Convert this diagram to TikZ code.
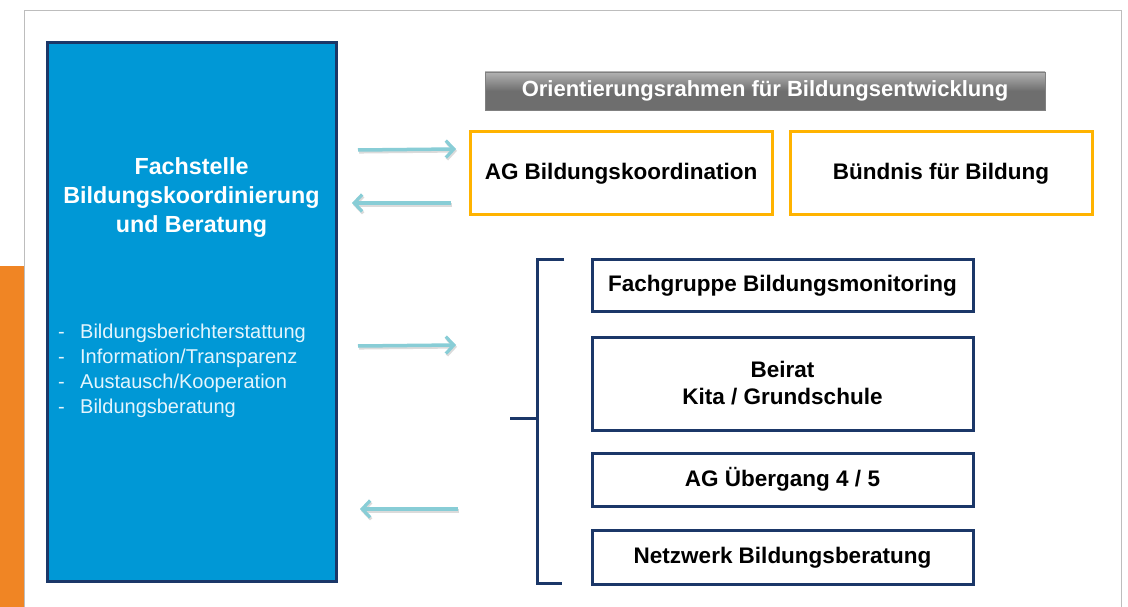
\documentclass[tikz,border=0pt]{standalone}
\usepackage{fontspec}
\setmainfont{Liberation Sans}
\usetikzlibrary{arrows.meta}
\definecolor{fsblue}{HTML}{0098D6}
\definecolor{navy}{HTML}{1B3768}
\definecolor{orng}{HTML}{F08524}
\definecolor{amber}{HTML}{FFB300}
\definecolor{teal}{HTML}{88CDD6}
\definecolor{bullettxt}{HTML}{E4F5FD}
\definecolor{framegray}{HTML}{BDBDBD}
\tikzset{
  yellowbox/.style={draw=amber, line width=3pt, fill=white, minimum width=302pt, minimum height=83pt, inner sep=0pt, font=\fontsize{22.5}{27}\selectfont\bfseries},
  navybox/.style={draw=navy, line width=3pt, fill=white, minimum width=381pt, inner sep=0pt, align=center, font=\fontsize{22.5}{27}\selectfont\bfseries},
  flowarrow/.style={draw=teal, line width=3.5pt, -{Straight Barb[length=8pt,width=17pt,line width=3.2pt]}},
  arrowshadow/.style={draw=black!14, line width=3.5pt, -{Straight Barb[length=8pt,width=17pt,line width=3.2pt]}},
  bracket/.style={draw=navy, line width=3pt}
}
\begin{document}
\begin{tikzpicture}[x=1pt,y=-1pt]
\useasboundingbox (0,0) rectangle (1128,607);
\fill[white] (0,0) rectangle (1128,607);
% frame and orange bar
\draw[framegray, line width=1pt] (24,607) -- (24,11) -- (1121,11) -- (1121,607);
\fill[orng] (0,266) rectangle (23.5,607);
% main blue box
\node[draw=navy, line width=3pt, fill=fsblue, minimum width=289pt, minimum height=538pt, inner sep=0pt] (fs) at (191.5,312) {};
\node[text=white, align=center, font=\fontsize{23.3}{29}\selectfont\bfseries] (fstitle) at (191.5,198) {Fachstelle\\Bildungskoordinierung\\und Beratung};
\node[anchor=west, text=bullettxt, align=left, inner sep=0pt, font=\fontsize{20}{25}\selectfont] (fslist) at (58,370.5)
  {\makebox[22pt][l]{-}Bildungsberichterstattung\\\makebox[22pt][l]{-}Information/Transparenz\\\makebox[22pt][l]{-}Austausch/Kooperation\\\makebox[22pt][l]{-}Bildungsberatung};
% banner
\node[top color=black!30, bottom color=black!57, middle color=black!57, draw=black!50, line width=0.5pt, minimum width=560pt, minimum height=38pt, inner sep=0pt, text=white, font=\fontsize{22}{26}\selectfont\bfseries] (banner) at (765,91) {\raisebox{-2pt}{Orientierungsrahmen für Bildungsentwicklung}};
% yellow boxes
\node[yellowbox] (agbk) at (621,173.5) {\raisebox{-2pt}{AG Bildungskoordination}};
\node[yellowbox] (bfb) at (941,173.5) {\raisebox{-2pt}{Bündnis für Bildung}};
% navy boxes
\node[navybox, minimum height=52pt] (fgbm) at (782.5,285.5) {\raisebox{-1.5pt}{Fachgruppe Bildungsmonitoring}};
\node[navybox, minimum height=93pt] (beirat) at (782.5,383.5) {Beirat\\Kita / Grundschule};
\node[navybox, minimum height=53pt] (agueb) at (782.5,479.5) {AG Übergang 4 / 5};
\node[navybox, minimum height=54pt] (netz) at (782.5,557.5) {\raisebox{-1.5pt}{Netzwerk Bildungsberatung}};
% bracket
\coordinate (brtop) at (564,259);
\coordinate (brtopc) at (537,259);
\coordinate (brbot) at (562,583);
\coordinate (brbotc) at (537,583);
\coordinate (brmid) at (537,418);
\coordinate (brtick) at (510,418);
\draw[bracket] (brtop) -- (brtopc) -- (brbotc) -- (brbot);
\draw[bracket] (brmid) -- (brtick);
% arrows
\coordinate (a1s) at (358,150); \coordinate (a1e) at (456,149);
\coordinate (a2s) at (451,203); \coordinate (a2e) at (352,203);
\coordinate (a3s) at (358,346); \coordinate (a3e) at (456,345);
\coordinate (a4s) at (458,509); \coordinate (a4e) at (360,509);
\foreach \s/\e in {a1s/a1e,a2s/a2e,a3s/a3e,a4s/a4e}{
  \draw[arrowshadow] ([shift={(1,1.8)}]\s) -- ([shift={(1,1.8)}]\e);
  \draw[flowarrow] (\s) -- (\e);
}
\end{tikzpicture}
\end{document}
